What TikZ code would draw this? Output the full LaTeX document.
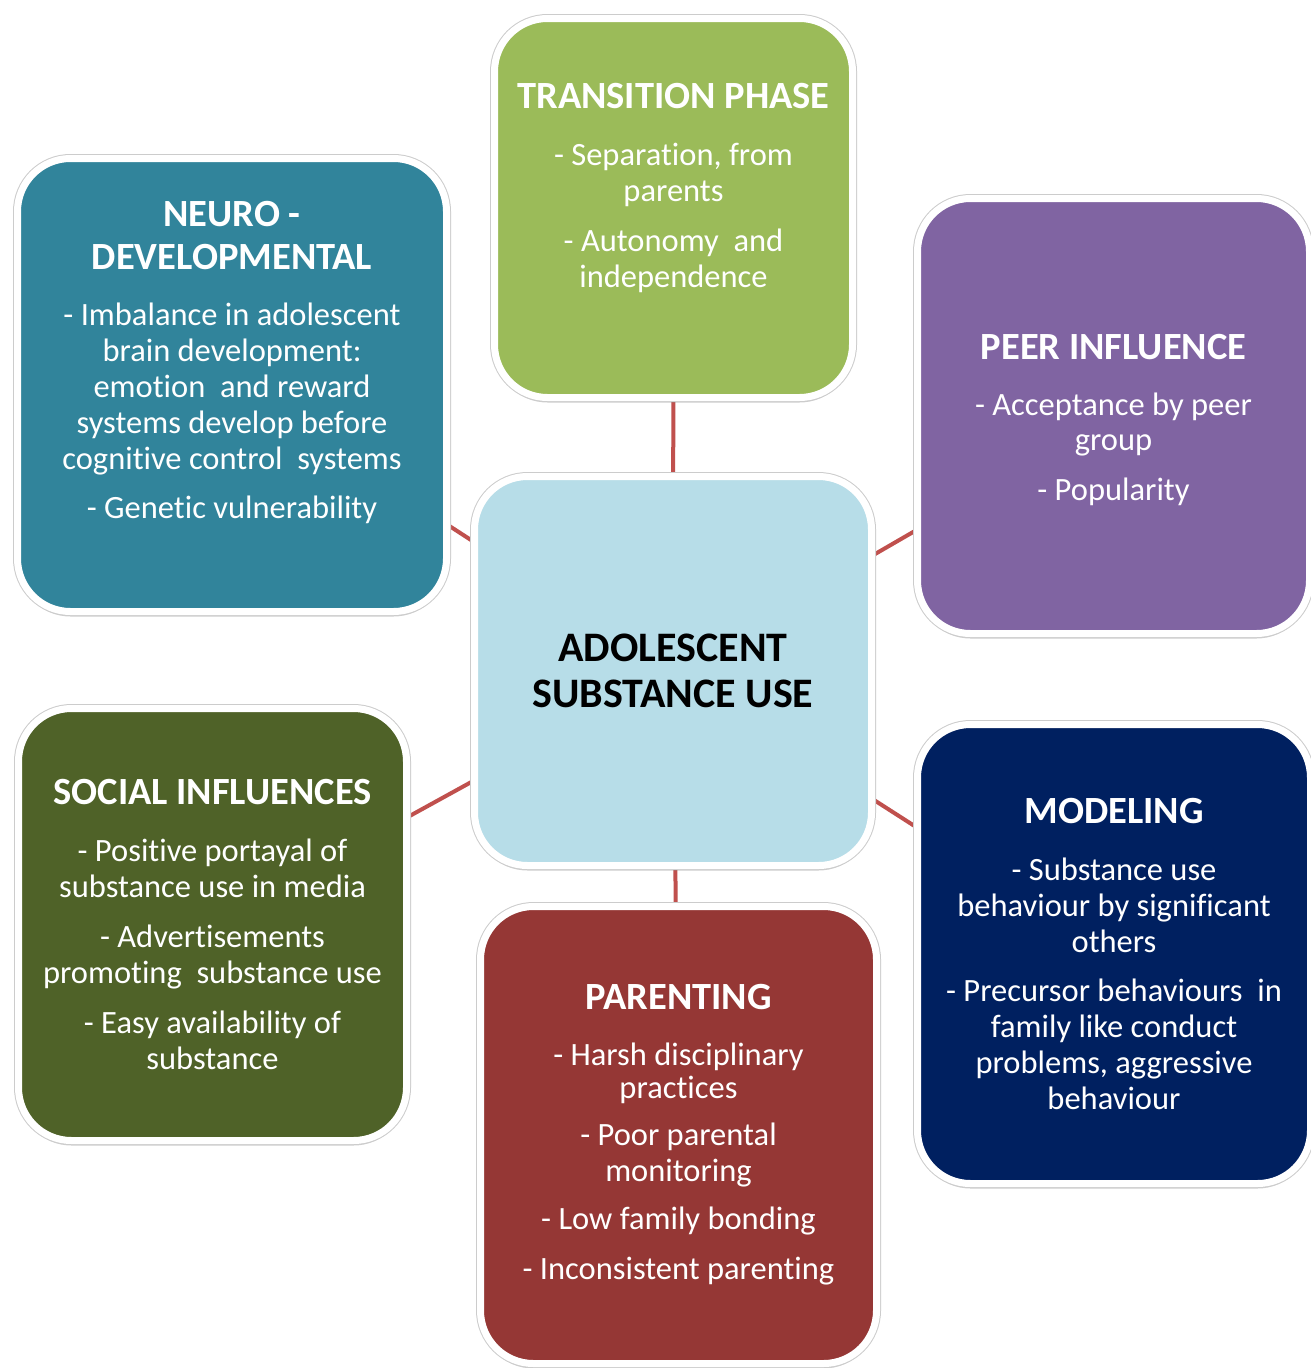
\documentclass[tikz,border=0pt]{standalone}
\usepackage{fontspec}
\setmainfont{Carlito}[Ligatures=NoCommon]
\usepackage{tikz}
\usetikzlibrary{shadows,backgrounds}
\usepackage{xcolor}

\definecolor{transgreen}{HTML}{9BBB59}
\definecolor{neuroteal}{HTML}{31849B}
\definecolor{peerpurple}{HTML}{8064A2}
\definecolor{coreblue}{HTML}{B7DDE8}
\definecolor{socialolive}{HTML}{4F6228}
\definecolor{parentred}{HTML}{953735}
\definecolor{modelnavy}{HTML}{002060}
\definecolor{linkred}{HTML}{C0504D}

\newcommand{\boxtitle}{\fontsize{38.5}{43}\selectfont\bfseries}
\newcommand{\boxbody}{\fontsize{32.5}{36}\selectfont}
\newcommand{\coretitle}{\fontsize{42}{46}\selectfont\bfseries}

\begin{document}
\begin{tikzpicture}[x=1pt, y=-1pt]
\tikzset{box/.style={drop shadow={shadow xshift=0pt, shadow yshift=-5pt, opacity=0.3, fill=black!60},
  preaction={draw=black!20, line width=9pt}, draw=white, line width=7pt, rounded corners=53pt,
  text=white, align=center, font=\boxbody, inner sep=0pt}}
\tikzset{link/.style={draw=linkred, line width=4pt}}
\useasboundingbox (0,0) rectangle (1310,1368);
\node[box, fill=coreblue, text=black, font=\coretitle, minimum width=397pt, minimum height=389pt] (core) at (673,671) {ADOLESCENT\\SUBSTANCE USE};
\node[box, fill=transgreen, minimum width=358pt, minimum height=379pt] (trans) at (673.5,208) {{\boxtitle TRANSITION PHASE}\\[21pt]
  - Separation, from\\parents\\[14pt]
  - Autonomy~ and\\independence\\[9pt]\mbox{}};
\node[box, fill=neuroteal, minimum width=429pt, minimum height=453pt] (neuro) at (232,385) {{\boxtitle NEURO -}\\[7pt]{\boxtitle DEVELOPMENTAL}\\[20pt]
  - Imbalance in adolescent\\brain development:\\emotion~ and reward\\systems develop before\\cognitive control~ systems\\[13pt]
  - Genetic vulnerability\\[15pt]\mbox{}};
\node[box, fill=peerpurple, minimum width=392pt, minimum height=435pt] (peer) at (1113.5,416) {{\boxtitle PEER INFLUENCE}\\[20pt]
  - Acceptance by peer\\[-1pt]group\\[14pt]
  - Popularity\\[-38pt]\mbox{}};
\node[box, fill=socialolive, minimum width=388pt, minimum height=432pt] (social) at (212.5,924.5) {{\boxtitle SOCIAL INFLUENCES}\\[21pt]
  - Positive portayal of\\substance use in media\\[14pt]
  - Advertisements\\promoting~ substance use\\[14pt]
  - Easy availability of\\substance};
\node[box, fill=parentred, minimum width=396pt, minimum height=457pt] (parent) at (678.5,1135) {{\boxtitle PARENTING}\\[20pt]
  - Harsh disciplinary\\[-3pt]practices\\[11pt]
  - Poor parental\\monitoring\\[12pt]
  - Low family bonding\\[14pt]
  - Inconsistent parenting};
\node[box, fill=modelnavy, minimum width=393pt, minimum height=459pt] (model) at (1114,954) {{\boxtitle MODELING}\\[21pt]
  - Substance use\\behaviour by significant\\others\\[13pt]
  - Precursor behaviours~ in\\family like conduct\\problems, aggressive\\behaviour};
\begin{scope}[on background layer]
\fill[white] (0,0) rectangle (1310,1368);
\draw[link] (core.center) -- (trans.center);
\draw[link] (core.center) -- (neuro.center);
\draw[link] (core.center) -- (peer.center);
\draw[link] (core.center) -- (social.center);
\draw[link] (core.center) -- (parent.center);
\draw[link] (core.center) -- (model.center);
\end{scope}
\end{tikzpicture}
\end{document}
